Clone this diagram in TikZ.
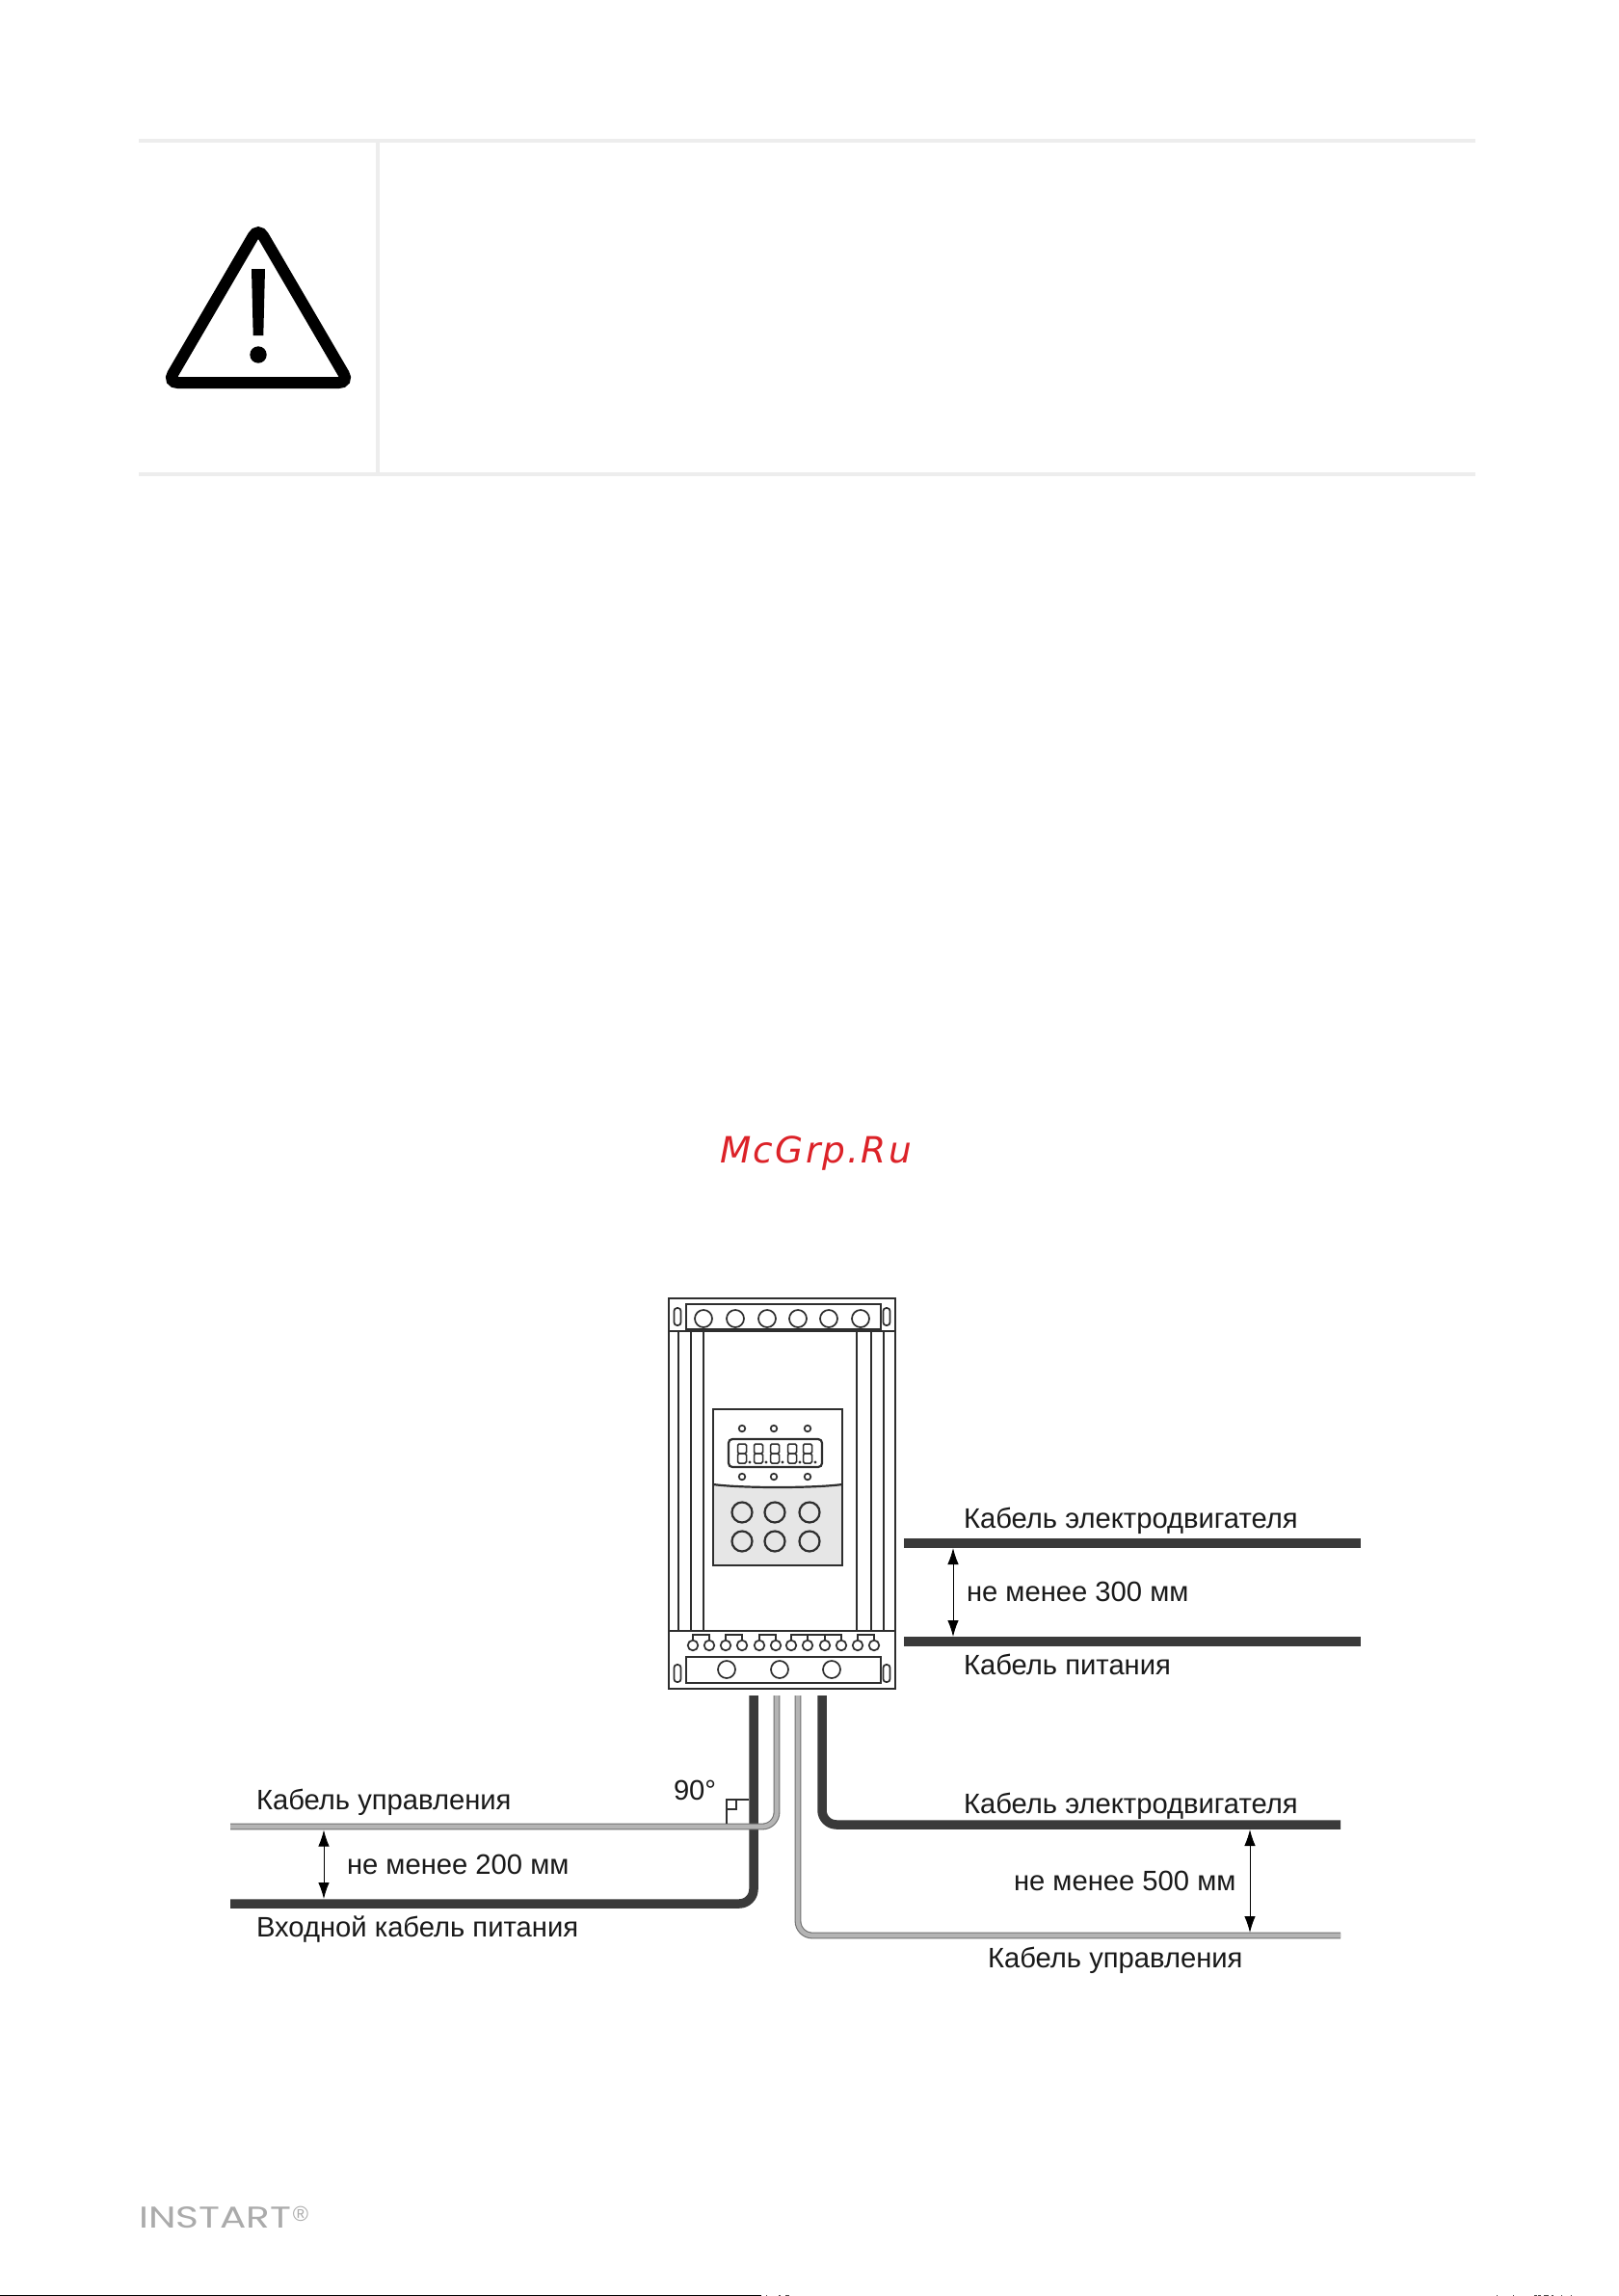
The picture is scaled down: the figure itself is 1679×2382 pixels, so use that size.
\documentclass[tikz,border=0pt]{standalone}
\usepackage{fontspec}
\usepackage{graphicx}
\setmainfont{Liberation Sans}
\newfontfamily\wmfont[LetterSpace=6]{DejaVu Sans}
\newfontfamily\logofont{Poppins}
\usetikzlibrary{arrows.meta}
\definecolor{rulegray}{HTML}{EDEDED}
\definecolor{ink}{HTML}{2E2E2E}
\definecolor{thickcab}{HTML}{3A3A3A}
\definecolor{cabedge}{HTML}{707070}
\definecolor{cabfill}{HTML}{B4B4B4}
\definecolor{panelgray}{HTML}{E6E6E6}
\definecolor{wmred}{HTML}{DC2228}
\definecolor{logogray}{HTML}{ABABAB}
\tikzset{
  rulebar/.style={draw=none,fill=rulegray},
  dev/.style={draw=ink,line width=2.4pt,fill=white},
  devline/.style={draw=ink,line width=2.2pt},
  thin part/.style={draw=ink,line width=1.7pt},
  thickcable/.style={draw=thickcab,line width=9.5pt,rounded corners=15pt},
  graycable/.style={draw=cabedge,line width=1.1pt,double=cabfill,double distance=4.6pt,rounded corners=15pt},
  dimarrow/.style={draw=black,line width=1pt,{Latex[length=17pt,width=11.5pt]}-{Latex[length=17pt,width=11.5pt]}},
  lab/.style={anchor=base west,inner sep=0pt,outer sep=0pt,text=black!90,font=\fontsize{29.2pt}{32pt}\selectfont},
}
\begin{document}
\begin{tikzpicture}[x=1pt,y=-1pt]
\useasboundingbox (0,0) rectangle (1679,2382);
\fill[white] (0,0) rectangle (1679,2382);

% warning block
\fill[rulebar] (144,144) rectangle (1531,148);
\fill[rulebar] (144,490) rectangle (1531,494);
\fill[rulebar] (390,148) rectangle (394,490);
\draw[black,line width=12pt,rounded corners=10.5pt] (174,397) -- (268,236) -- (362,397) -- cycle;
\fill[black] (261,279) -- (275,279) -- (273.3,348) -- (262.7,348) -- cycle;
\fill[black] (268,368) circle (8.7pt);

% watermark
\node[anchor=base west,inner sep=0pt,text=wmred,font=\wmfont\itshape\fontsize{37.5pt}{40pt}\selectfont] (wm) at (747,1206) {McGrp.Ru};

% device
\draw[dev] (694,1347) rectangle (929,1752);
\draw[devline] (694,1381) -- (929,1381);
\draw[devline] (694,1692) -- (929,1692);
\foreach \x in {704,717,730,889,904,917}{\draw[devline] (\x,1381) -- (\x,1692);}
\draw[dev] (712,1353) rectangle (914,1379);
\foreach \x in {730,763,796,828,860,893}{\draw[thin part] (\x,1368) circle (9pt);}
\foreach \x in {703,920}{
  \draw[thin part,rounded corners=3pt] (\x-3.5,1357) rectangle (\x+3.5,1375);
  \draw[thin part,rounded corners=3pt] (\x-3.5,1727) rectangle (\x+3.5,1745);
}
% panel
\draw[dev] (740,1462) rectangle (874,1624);
\fill[panelgray] (740,1540) .. controls (770,1544) and (844,1544) .. (874,1540) -- (874,1623) -- (740,1623) -- cycle;
\draw[devline] (740,1462) rectangle (874,1624);
\draw[devline] (740,1540) .. controls (770,1544) and (844,1544) .. (874,1540);
\foreach \x in {770,803,838}{
  \draw[thin part] (\x,1482) circle (3.3pt);
  \draw[thin part] (\x,1532) circle (3.3pt);
}
\draw[devline,rounded corners=4pt] (756,1493) rectangle (853,1522);
\foreach \x in {770,787,804,822,838}{
  \draw[draw=ink,line width=1.5pt,rounded corners=1.5pt] (\x-4.5,1498) rectangle (\x+4.5,1508);
  \draw[draw=ink,line width=1.5pt,rounded corners=1.5pt] (\x-4.5,1508) rectangle (\x+4.5,1518);
  \fill[ink] (\x+8,1517) circle (1.6pt);
}
\foreach \x in {770,804,840}{
  \draw[devline] (\x,1569) circle (10.5pt);
  \draw[devline] (\x,1599) circle (10.5pt);
}
% bottom terminals
\foreach \x in {719,736,753,770,788,805,821,838,856,873,890,907}{
  \draw[thin part] (\x,1707) circle (5.3pt);
}
\foreach \a/\b in {719/736,753/770,788/805,890/907}{
  \draw[thin part] (\a,1702) -- (\a,1696) -- (\b,1696) -- (\b,1702);
}
\draw[thin part] (821,1702) -- (821,1696) -- (873,1696) -- (873,1702);
\draw[thin part] (838,1696) -- (838,1702);
\draw[thin part] (856,1696) -- (856,1702);
\draw[dev] (712,1719) rectangle (914,1746);
\foreach \x in {754,809,863}{\draw[thin part] (\x,1732) circle (9pt);}

% cable end points
\coordinate (a0) at (782,1759);
\coordinate (a1) at (782,1975);
\coordinate (a2) at (239,1975);
\coordinate (b0) at (806,1759);
\coordinate (b1) at (806,1895);
\coordinate (b2) at (239,1895);
\coordinate (c0) at (828,1759);
\coordinate (c1) at (828,2008);
\coordinate (c2) at (1391,2008);
\coordinate (d0) at (853,1759);
\coordinate (d1) at (853,1893);
\coordinate (d2) at (1391,1893);
\coordinate (e1) at (938,1601);
\coordinate (e2) at (1412,1601);
\coordinate (f1) at (938,1703);
\coordinate (f2) at (1412,1703);

% cables
\draw[thickcable] (a0) -- (a1) -- (a2);
\draw[graycable] (b0) -- (b1) -- (b2);
\draw[graycable] (c0) -- (c1) -- (c2);
\draw[thickcable] (d0) -- (d1) -- (d2);
\draw[thickcable] (e1) -- (e2);
\draw[thickcable] (f1) -- (f2);

% right angle mark
\draw[draw=ink,line width=1.1pt] (777,1867) -- (754,1867) -- (754,1892);
\draw[draw=ink,line width=1.1pt] (754,1877) -- (764,1877) -- (764,1867);

% dimension arrows
\coordinate (g1) at (336,1898.5);
\coordinate (g2) at (336,1970);
\coordinate (h1) at (989,1606);
\coordinate (h2) at (989,1698);
\coordinate (i1) at (1297,1898);
\coordinate (i2) at (1297,2005);
\draw[dimarrow] (g1) -- (g2);
\draw[dimarrow] (h1) -- (h2);
\draw[dimarrow] (i1) -- (i2);

% labels
\node[lab] (t90) at (699,1867) {90°};
\node[lab] (t1) at (266,1877) {Кабель управления};
\node[lab] (t2) at (360,1944) {не менее 200 мм};
\node[lab] (t3) at (266,2009) {Входной кабель питания};
\node[lab] (t4) at (1000,1585) {Кабель электродвигателя};
\node[lab] (t5) at (1003,1661) {не менее 300 мм};
\node[lab] (t6) at (1000,1737) {Кабель питания};
\node[lab] (t7) at (1000,1881) {Кабель электродвигателя};
\node[lab] (t8) at (1052,1961) {не менее 500 мм};
\node[lab] (t9) at (1025,2041) {Кабель управления};

% logo
\node[anchor=base west,inner sep=0pt,text=logogray] (logo) at (144,2311) {\resizebox{158pt}{22pt}{\logofont INSTART}};
\node[anchor=center,inner sep=0pt,text=logogray,font=\fontsize{22pt}{24pt}\selectfont] (reg) at (312,2297) {®};

% page foot
\fill[black] (0,2380.5) rectangle (790,2382);
\foreach \x/\w in {795/1,808/2,815/4,1553/1,1570/1,1592/3,1596/3,1602/5,1610/2,1620/1,1630/1}{\fill[black!70] (\x,2380.5) rectangle (\x+\w,2382);}
\end{tikzpicture}
\end{document}
